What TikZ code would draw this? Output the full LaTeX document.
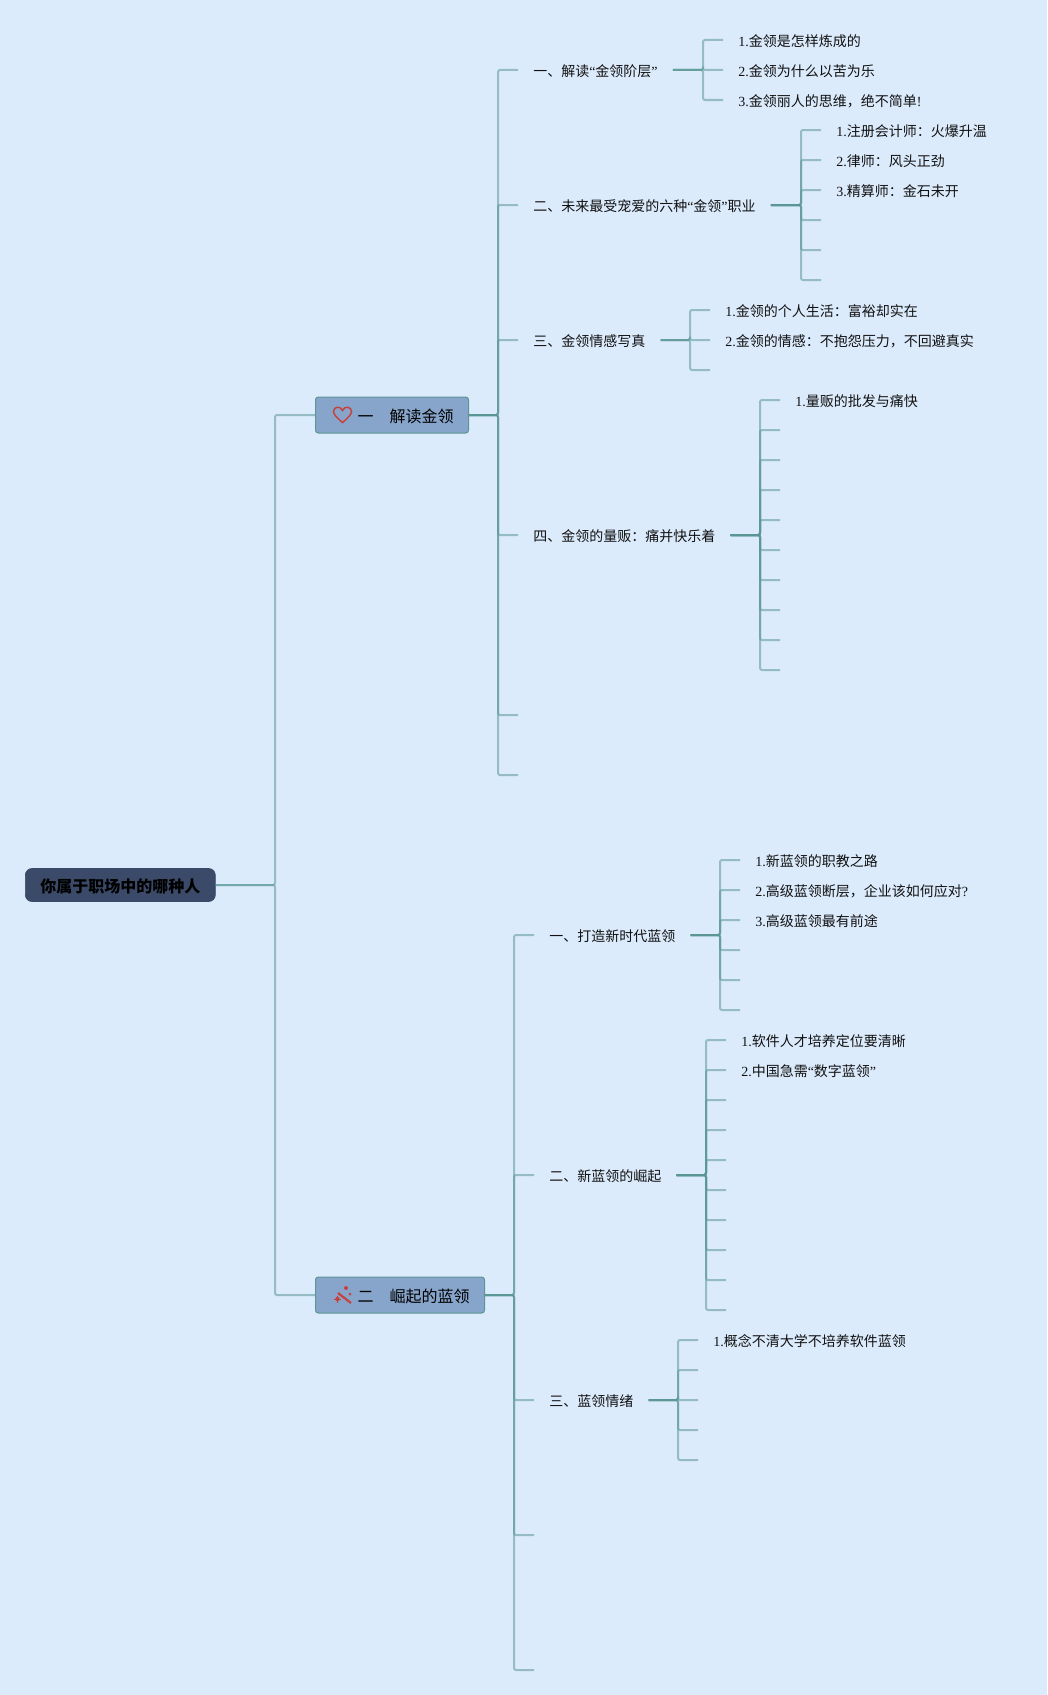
\documentclass[tikz,border=0pt]{standalone}
\usepackage{fontspec}
\setmainfont{Noto Sans CJK SC}
\newfontfamily\latf{Liberation Serif}
\newcommand{\lat}[1]{{\latf #1}}
\definecolor{bgc}{HTML}{DCEBFC}
\definecolor{linkc}{HTML}{5A9794}
\definecolor{rootc}{HTML}{3A4A68}
\definecolor{mainc}{HTML}{87A5CB}
\definecolor{iconc}{HTML}{C8403C}
\definecolor{inkc}{HTML}{111111}
\tikzset{
  x=0.75pt,y=-0.75pt,
  link/.style={draw=linkc,draw opacity=.55,line width=1.5pt,rounded corners=1.5pt},
  label/.style={anchor=west,inner ysep=0pt,inner xsep=11.25pt,text height=11.7pt,text depth=1.5pt,font=\fontsize{10.5pt}{12pt}\selectfont,text=inkc},
  rootbox/.style={anchor=west,fill=rootc,draw=rootc,line width=.5pt,rounded corners=5pt,inner xsep=11.25pt,inner ysep=0pt,minimum height=24.75pt,text height=13.5pt,text depth=2.1pt,font=\fontsize{12pt}{14pt}\selectfont\bfseries,text=black},
  mainbox/.style={anchor=west,fill=mainc,draw=linkc,line width=.75pt,rounded corners=2pt,inner sep=0pt,minimum height=27pt,text height=13.5pt,text depth=2.1pt,font=\fontsize{12pt}{14pt}\selectfont,text=black},
  icon/.style={draw=iconc,line width=1.1pt,fill=none},
}
\newcommand{\conn}[3]{\draw[link] (#1) -- (#2 |- #1) -- (#2 |- #3) -- (#3);}
\begin{document}
\begin{tikzpicture}
\fill[bgc] (0,0) rectangle (1047,1695);
\useasboundingbox (0,0) rectangle (1047,1695);

% root and main topics
\node[rootbox] (root) at (25,885) {你属于职场中的哪种人};
\node[mainbox] (m1) at (315,415) {\hspace*{31.5pt}一　解读金领\hspace*{11.25pt}};
\node[mainbox] (m2) at (315,1295) {\hspace*{31.5pt}二　崛起的蓝领\hspace*{11.25pt}};

% trunks
\coordinate (t0) at (275,0);
\coordinate (t1) at (498,0);
\coordinate (t2) at (514,0);
\coordinate (ta) at (703,0);
\coordinate (tb) at (801,0);
\coordinate (tc) at (690,0);
\coordinate (td) at (760,0);
\coordinate (te) at (720,0);
\coordinate (tf) at (706,0);
\coordinate (tg) at (678,0);

% second level
\node[label] (s1) at (518,70) {一、解读\lat{“}金领阶层\lat{”}};
\node[label] (s2) at (518,205) {二、未来最受宠爱的六种\lat{“}金领\lat{”}职业};
\node[label] (s3) at (518,340) {三、金领情感写真};
\node[label] (s4) at (518,535) {四、金领的量贩：痛并快乐着};
\coordinate (s5) at (518,715);
\coordinate (s6) at (518,775);
\node[label] (r1) at (534,935) {一、打造新时代蓝领};
\node[label] (r2) at (534,1175) {二、新蓝领的崛起};
\node[label] (r3) at (534,1400) {三、蓝领情绪};
\coordinate (r4) at (534,1535);
\coordinate (r5) at (534,1670);

% third level
\node[label] (a1) at (723,40) {\lat{1.}金领是怎样炼成的};
\node[label] (a2) at (723,70) {\lat{2.}金领为什么以苦为乐};
\node[label] (a3) at (723,100) {\lat{3.}金领丽人的思维，绝不简单\lat{!}};

\node[label] (b1) at (821,130) {\lat{1.}注册会计师：火爆升温};
\node[label] (b2) at (821,160) {\lat{2.}律师：风头正劲};
\node[label] (b3) at (821,190) {\lat{3.}精算师：金石未开};
\coordinate (b4) at (821,220);
\coordinate (b5) at (821,250);
\coordinate (b6) at (821,280);

\node[label] (c1) at (710,310) {\lat{1.}金领的个人生活：富裕却实在};
\node[label] (c2) at (710,340) {\lat{2.}金领的情感：不抱怨压力，不回避真实};
\coordinate (c3) at (710,370);

\node[label] (d1) at (780,400) {\lat{1.}量贩的批发与痛快};
\foreach \i [evaluate=\i as \yy using {400+30*(\i-1)}] in {2,...,10} {\coordinate (d\i) at (780,\yy);}

\node[label] (e1) at (740,860) {\lat{1.}新蓝领的职教之路};
\node[label] (e2) at (740,890) {\lat{2.}高级蓝领断层，企业该如何应对\lat{?}};
\node[label] (e3) at (740,920) {\lat{3.}高级蓝领最有前途};
\coordinate (e4) at (740,950);
\coordinate (e5) at (740,980);
\coordinate (e6) at (740,1010);

\node[label] (f1) at (726,1040) {\lat{1.}软件人才培养定位要清晰};
\node[label] (f2) at (726,1070) {\lat{2.}中国急需\lat{“}数字蓝领\lat{”}};
\foreach \i [evaluate=\i as \yy using {1040+30*(\i-1)}] in {3,...,10} {\coordinate (f\i) at (726,\yy);}

\node[label] (g1) at (698,1340) {\lat{1.}概念不清大学不培养软件蓝领};
\foreach \i [evaluate=\i as \yy using {1340+30*(\i-1)}] in {2,...,5} {\coordinate (g\i) at (698,\yy);}

% connectors
\conn{root.east}{t0}{m1.west}
\conn{root.east}{t0}{m2.west}

\foreach \c in {s1.west,s2.west,s3.west,s4.west,s5,s6} {\conn{m1.east}{t1}{\c}}
\foreach \c in {r1.west,r2.west,r3.west,r4,r5} {\conn{m2.east}{t2}{\c}}

\foreach \c in {a1.west,a2.west,a3.west} {\conn{s1.east}{ta}{\c}}
\foreach \c in {b1.west,b2.west,b3.west,b4,b5,b6} {\conn{s2.east}{tb}{\c}}
\foreach \c in {c1.west,c2.west,c3} {\conn{s3.east}{tc}{\c}}
\foreach \c in {d1.west,d2,d3,d4,d5,d6,d7,d8,d9,d10} {\conn{s4.east}{td}{\c}}
\foreach \c in {e1.west,e2.west,e3.west,e4,e5,e6} {\conn{r1.east}{te}{\c}}
\foreach \c in {f1.west,f2.west,f3,f4,f5,f6,f7,f8,f9,f10} {\conn{r2.east}{tf}{\c}}
\foreach \c in {g1.west,g2,g3,g4,g5} {\conn{r3.east}{tg}{\c}}

% icons
\draw[icon] (342.5,422.5) .. controls (336,417) and (333.5,414) .. (333.5,411.5)
  .. controls (333.5,406.5) and (340.5,405.5) .. (342.5,410.5)
  .. controls (344.5,405.5) and (351.5,406.5) .. (351.5,411.5)
  .. controls (351.5,414) and (349,417) .. (342.5,422.5) -- cycle;
\draw[iconc,line width=1.6pt] (338,1293) -- (351,1303);
\fill[iconc] (337.5,1299) circle (2.2);
\fill[iconc] (346,1288) circle (2);
\fill[iconc] (350,1294) circle (1.5);
\draw[iconc,line width=.7pt] (334,1299) -- (341,1299) (337.5,1295.5) -- (337.5,1302.5);
\end{tikzpicture}
\end{document}
